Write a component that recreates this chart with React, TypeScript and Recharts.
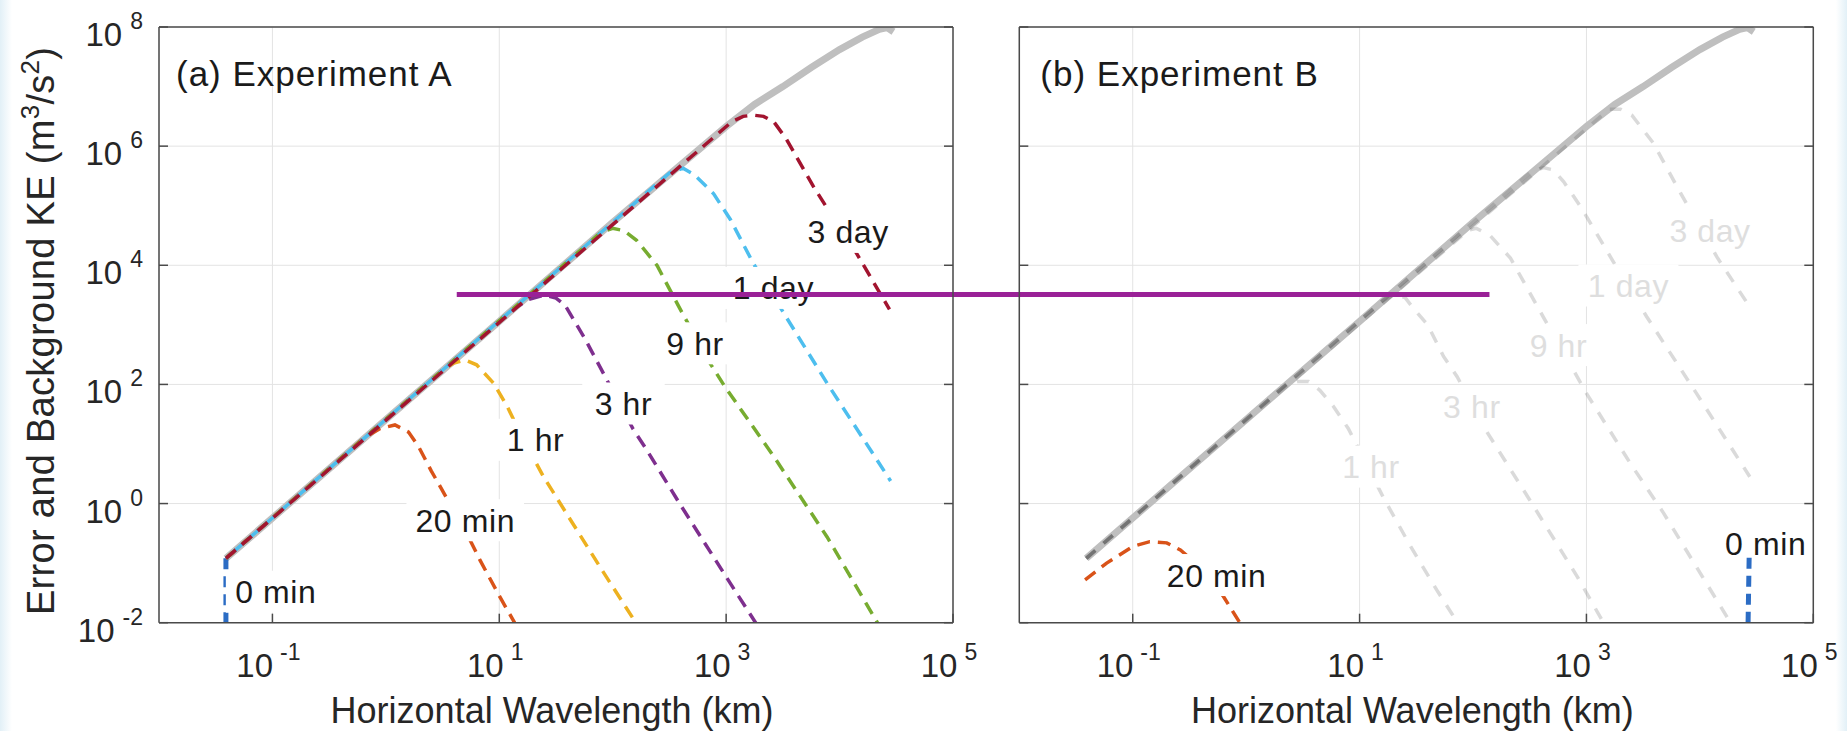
import React from 'react';
import {
  LineChart,
  Line,
  XAxis,
  YAxis,
  CartesianGrid,
  ReferenceDot,
  ReferenceLine,
} from 'recharts';

// every point is [log10 wavelength (km), log10 KE (m^3/s^2)]
type Pt = [number, number];

const backgroundKE: Pt[] = [
  [-1.41, -0.92], [0, 1.41], [1, 3.06], [2, 4.72], [3, 6.33], [3.25, 6.7],
  [3.5, 7.0], [3.75, 7.32], [4.0, 7.62], [4.2, 7.83], [4.35, 7.96], [4.42, 7.99],
  [4.475, 7.92],
];

// Experiment A error spectra
const zeroMinA: Pt[] = [[-1.41, -0.92], [-1.41, -2.0]];
const twentyMinA: Pt[] = [
  [-1.41, -0.92], [-0.2, 1.09], [-0.05, 1.26], [0.08, 1.32], [0.2, 1.2], [0.29, 0.95],
  [0.4, 0.55], [0.54, 0.08], [0.7, -0.45], [0.83, -0.95], [1.0, -1.55], [1.15, -2.05],
];
const oneHrA: Pt[] = [
  [-1.41, -0.92], [0.5, 2.24], [0.6, 2.36], [0.7, 2.41], [0.8, 2.33], [0.95, 2.02],
  [1.07, 1.63], [1.2, 1.12], [1.39, 0.45], [1.62, -0.25], [1.9, -1.1], [2.21, -2.02],
];
const threeHrA: Pt[] = [
  [-1.41, -0.92], [1.1, 3.23], [1.25, 3.42], [1.4, 3.5], [1.5, 3.45], [1.58, 3.33],
  [1.76, 2.75], [1.95, 2.07], [2.18, 1.25], [2.3, 0.9], [2.59, 0.0], [3.0, -1.23],
  [3.27, -2.03],
];
const nineHrA: Pt[] = [
  [-1.41, -0.92], [1.9, 4.56], [2.0, 4.62], [2.1, 4.58], [2.21, 4.42], [2.39, 4.0],
  [2.59, 3.28], [2.86, 2.35], [2.99, 1.96], [3.42, 0.79], [3.89, -0.56], [4.34, -2.02],
];
const oneDayA: Pt[] = [
  [-1.41, -0.92], [2.5, 5.55], [2.62, 5.63], [2.72, 5.52], [2.89, 5.2], [3.04, 4.76],
  [3.24, 4.03], [3.51, 3.19], [3.89, 2.02], [4.45, 0.38],
];
const threeDayA: Pt[] = [
  [-1.41, -0.92], [3.05, 6.41], [3.15, 6.5], [3.24, 6.52], [3.33, 6.5], [3.42, 6.41],
  [3.53, 6.12], [3.77, 5.32], [3.92, 4.87], [4.15, 4.2], [4.44, 3.26],
];

// Experiment B error spectra
const zeroMinB: Pt[] = [[4.425, -2.0], [4.435, -0.84]];
const twentyMinB: Pt[] = [
  [-1.42, -1.28], [-1.23, -1.0], [-1.0, -0.72], [-0.85, -0.64], [-0.7, -0.66],
  [-0.58, -0.78], [-0.4, -1.07], [-0.2, -1.56], [-0.05, -2.02],
];
const oneHrB: Pt[] = [
  [-1.41, -0.92], [0.35, 1.99], [0.45, 2.05], [0.55, 2.05], [0.65, 1.9], [0.77, 1.63],
  [0.9, 1.26], [1.05, 0.7], [1.21, 0.1], [1.45, -0.72], [1.68, -1.45], [1.87, -2.02],
];
const threeHrB: Pt[] = [
  [-1.41, -0.92], [1.2, 3.4], [1.3, 3.5], [1.4, 3.46], [1.474, 3.28], [1.6, 3.0],
  [1.74, 2.47], [1.86, 2.13], [2.12, 1.21], [2.5, 0.06], [2.92, -1.23], [3.15, -2.0],
];
const nineHrB: Pt[] = [
  [-1.41, -0.92], [1.9, 4.56], [2.03, 4.62], [2.15, 4.5], [2.33, 4.12], [2.62, 3.13],
  [2.885, 2.24], [3.0, 1.85], [3.385, 0.68], [3.68, -0.16], [4.27, -2.0],
];
const oneDayB: Pt[] = [
  [-1.41, -0.92], [2.5, 5.55], [2.62, 5.64], [2.71, 5.6], [2.8, 5.4], [2.95, 4.98],
  [3.24, 4.05], [3.53, 3.14], [3.97, 1.85], [4.44, 0.45],
];
const threeDayB: Pt[] = [
  [-1.41, -0.92], [3.2, 6.62], [3.3, 6.62], [3.4, 6.52], [3.59, 6.05], [3.83, 5.21],
  [4.15, 4.14], [4.44, 3.3],
];

const xTicks = [1e-1, 1e1, 1e3, 1e5];
const yTicks = [1e-2, 1e0, 1e2, 1e4, 1e6, 1e8];

type CurveLabel = { text: string; at: Pt; faint?: boolean };

const labelsA: CurveLabel[] = [
  { text: '0 min', at: [-0.97, -1.48] },
  { text: '20 min', at: [0.7, -0.28] },
  { text: '1 hr', at: [1.32, 1.07] },
  { text: '3 hr', at: [2.095, 1.68] },
  { text: '9 hr', at: [2.726, 2.69] },
  { text: '1 day', at: [3.417, 3.62] },
  { text: '3 day', at: [4.076, 4.56] },
];
const labelsB: CurveLabel[] = [
  { text: '20 min', at: [-0.26, -1.2] },
  { text: '1 hr', at: [1.1, 0.62], faint: true },
  { text: '3 hr', at: [1.99, 1.63], faint: true },
  { text: '9 hr', at: [2.753, 2.66], faint: true },
  { text: '1 day', at: [3.37, 3.66], faint: true },
  { text: '3 day', at: [4.09, 4.59], faint: true },
  { text: '0 min', at: [4.58, -0.67] },
];

// horizontal marker across both panels (log10 units)
const markerKE = 3.51;
const markerStartA = 0.625;
const markerEndB = 2.145;

const FONT = '"Liberation Sans", Arial, Helvetica, sans-serif';
const TEXT = '#262626';
const AXIS = '#4a4a4a';
const TICK = 9;
const BG_GREY = '#bfbfbf';
const FAINT = '#555555';

const rows = (pts: Pt[]) => pts.map(([lx, ly]) => ({ x: 10 ** lx, y: 10 ** ly }));
const expOf = (v: number) => Math.round(Math.log10(v));

type Series = {
  name: string;
  color: string;
  pts: Pt[];
  width?: number;
  offset?: number;
  dash?: string;
};

const seriesA: Series[] = [
  { name: '0 min', color: '#2b6cc4', pts: zeroMinA, width: 5, dash: '11 7' },
  { name: '20 min', color: '#d95319', pts: twentyMinA },
  { name: '1 hr', color: '#edb120', pts: oneHrA },
  { name: '3 hr', color: '#7e2f8e', pts: threeHrA },
  { name: '9 hr', color: '#77ac30', pts: nineHrA },
  { name: '1 day', color: '#4dbeee', pts: oneDayA, offset: 11 },
  { name: '3 day', color: '#a2142f', pts: threeDayA },
];
const fadedB: Series[] = [
  { name: '1 hr', color: FAINT, pts: oneHrB, dash: '12 11' },
  { name: '3 hr', color: FAINT, pts: threeHrB, dash: '12 11' },
  { name: '9 hr', color: FAINT, pts: nineHrB, dash: '12 11' },
  { name: '1 day', color: FAINT, pts: oneDayB, dash: '12 11' },
  { name: '3 day', color: FAINT, pts: threeDayB, dash: '12 11' },
];
const seriesB: Series[] = [{ name: '20 min', color: '#d95319', pts: twentyMinB }];
const zeroB: Series = { name: '0 min', color: '#2b6cc4', pts: zeroMinB, width: 5, dash: '11 7' };

const BottomTick = (p: any) => (
  <g>
    <line x1={p.x} x2={p.x} y1={p.y} y2={p.y - TICK} stroke={AXIS} strokeWidth={1.5} />
    <text x={p.x - 4} y={p.y + 54} textAnchor="middle" fontSize={33} fill={TEXT} fontFamily={FONT}>
      10
      <tspan dx={7} dy={-17} fontSize={23}>{expOf(p.payload.value)}</tspan>
    </text>
  </g>
);
const TopTick = (p: any) => (
  <line x1={p.x} x2={p.x} y1={p.y} y2={p.y + TICK} stroke={AXIS} strokeWidth={1.5} />
);
const RightTick = (p: any) => (
  <line x1={p.x} x2={p.x - TICK} y1={p.y} y2={p.y} stroke={AXIS} strokeWidth={1.5} />
);
const makeLeftTick = (withLabel: boolean) => (p: any) => (
  <g>
    <line x1={p.x} x2={p.x + TICK} y1={p.y} y2={p.y} stroke={AXIS} strokeWidth={1.5} />
    {withLabel && (
      <text x={p.x - 16} y={p.y + 19} textAnchor="end" fontSize={33} fill={TEXT} fontFamily={FONT}>
        10
        <tspan dx={8} dy={-17} fontSize={23}>{expOf(p.payload.value)}</tspan>
      </text>
    )}
  </g>
);

const xTitle = (p: any) => {
  const { x, y, width } = p.viewBox;
  return (
    <text x={x + width / 2 - 4} y={y + 100} textAnchor="middle" fontSize={36} fill={TEXT} fontFamily={FONT}>
      Horizontal Wavelength (km)
    </text>
  );
};

const yTitle = (p: any) => {
  const { y, height } = p.viewBox;
  const cx = 54;
  const cy = y + height / 2 + 6;
  return (
    <text
      x={cx}
      y={cy}
      transform={`rotate(-90 ${cx} ${cy})`}
      textAnchor="middle"
      fontSize={38}
      letterSpacing={0.3}
      fill={TEXT}
      fontFamily={FONT}
    >
      Error and Background KE (m
      <tspan dy={-15} fontSize={26}>3</tspan>
      <tspan dy={15}>/s</tspan>
      <tspan dy={-15} fontSize={26}>2</tspan>
      <tspan dy={15}>)</tspan>
    </text>
  );
};

const panelTitle = (text: string, dx: number) => (p: any) => {
  const { x, y, height } = p.viewBox;
  return (
    <text x={x + dx} y={y + height + 59} fontSize={35} letterSpacing={1} fill="#1a1a1a" fontFamily={FONT}>
      {text}
    </text>
  );
};

const labelShape = (l: CurveLabel) => (p: any) => {
  const fs = 32;
  const w = l.text.length * fs * 0.55 + 12;
  return (
    <g>
      <rect x={p.cx - w / 2} y={p.cy - 21} width={w} height={42} fill="#ffffff" />
      <text
        x={p.cx}
        y={p.cy + fs * 0.36}
        textAnchor="middle"
        fontSize={fs}
        letterSpacing={0.6}
        fill={l.faint ? '#dedede' : '#1a1a1a'}
        fontFamily={FONT}
      >
        {l.text}
      </text>
    </g>
  );
};

const renderSeries = (s: Series, key: string, extra: any = {}) => (
  <Line
    key={key}
    data={rows(s.pts)}
    dataKey="y"
    name={s.name}
    type="linear"
    stroke={s.color}
    strokeWidth={s.width ?? 3.5}
    strokeDasharray={s.dash ?? '13 8'}
    strokeDashoffset={s.offset ?? 0}
    dot={false}
    activeDot={false}
    isAnimationActive={false}
    {...extra}
  />
);

type PanelProps = {
  left: number;
  width: number;
  yAxisWidth: number;
  marginRight: number;
  title: string;
  titleDx: number;
  showYLabels: boolean;
  faded: Series[];
  series: Series[];
  labels: CurveLabel[];
  after?: Series;
  marker: [number, number];
};

function Panel(props: PanelProps) {
  const axisLine = { stroke: AXIS, strokeWidth: 1.5 };
  return (
    <div style={{ position: 'absolute', left: props.left, top: 0 }}>
      <LineChart width={props.width} height={731} margin={{ top: 26, right: props.marginRight, bottom: 0, left: 0 }}>
        <CartesianGrid stroke="#e3e3e3" strokeWidth={1} />
        <XAxis
          dataKey="x"
          type="number"
          scale="log"
          domain={[1e-2, 1e5]}
          ticks={xTicks}
          allowDataOverflow
          interval={0}
          height={108.3}
          tickSize={0}
          tickMargin={0}
          tickLine={false}
          axisLine={axisLine}
          tick={BottomTick}
          label={xTitle}
        />
        <XAxis
          xAxisId="top"
          orientation="top"
          type="number"
          scale="log"
          domain={[1e-2, 1e5]}
          ticks={xTicks}
          allowDataOverflow
          interval={0}
          height={1}
          tickSize={0}
          tickMargin={0}
          tickLine={false}
          axisLine={axisLine}
          tick={TopTick}
          label={panelTitle(props.title, props.titleDx)}
        />
        <YAxis
          type="number"
          scale="log"
          domain={[1e-2, 1e8]}
          ticks={yTicks}
          allowDataOverflow
          interval={0}
          width={props.yAxisWidth}
          tickSize={0}
          tickMargin={0}
          tickLine={false}
          axisLine={axisLine}
          tick={makeLeftTick(props.showYLabels)}
          label={props.showYLabels ? yTitle : undefined}
        />
        <YAxis
          yAxisId="right"
          orientation="right"
          type="number"
          scale="log"
          domain={[1e-2, 1e8]}
          ticks={yTicks}
          allowDataOverflow
          interval={0}
          width={1}
          tickSize={0}
          tickMargin={0}
          tickLine={false}
          axisLine={axisLine}
          tick={RightTick}
        />
        <Line
          data={rows(backgroundKE)}
          dataKey="y"
          name="background"
          type="linear"
          stroke={BG_GREY}
          strokeWidth={7}
          dot={false}
          activeDot={false}
          isAnimationActive={false}
        />
        {props.faded.map((s, i) => renderSeries(s, `f${i}`, { strokeOpacity: 0.22 }))}
        {props.series.map((s, i) => renderSeries(s, `s${i}`))}
        {props.labels.map((l, i) => (
          <ReferenceDot
            key={`l${i}`}
            x={10 ** l.at[0]}
            y={10 ** l.at[1]}
            r={0}
            ifOverflow="visible"
            zIndex={450}
            shape={labelShape(l)}
          />
        ))}
        {props.after && renderSeries(props.after, 'after', { zIndex: 455 })}
        <ReferenceLine
          segment={[
            { x: 10 ** props.marker[0], y: 10 ** markerKE },
            { x: 10 ** props.marker[1], y: 10 ** markerKE },
          ]}
          stroke="#9a2197"
          strokeWidth={5}
          ifOverflow="visible"
          zIndex={460}
        />
      </LineChart>
    </div>
  );
}

// how far the marker runs past a panel edge to bridge the gap between panels (decades)
const bridge = 0.6;

export default function App() {
  return (
    <div
      style={{
        position: 'absolute',
        left: 0,
        top: 0,
        width: 1847,
        height: 731,
        overflow: 'hidden',
        background:
          'linear-gradient(to right, #e2f0f7 0px, #ffffff 12px, #ffffff 1836px, #e2f0f7 1847px)',
        fontFamily: FONT,
      }}
    >
      <Panel
        left={0}
        width={990}
        yAxisWidth={159}
        marginRight={36}
        title="(a) Experiment A"
        titleDx={17}
        showYLabels
        faded={[]}
        series={seriesA}
        labels={labelsA}
        marker={[markerStartA, 5 + bridge]}
      />
      <Panel
        left={960}
        width={887}
        yAxisWidth={59.3}
        marginRight={32.7}
        title="(b) Experiment B"
        titleDx={21}
        showYLabels={false}
        faded={fadedB}
        series={seriesB}
        labels={labelsB}
        after={zeroB}
        marker={[-2 - bridge, markerEndB]}
      />
    </div>
  );
}
